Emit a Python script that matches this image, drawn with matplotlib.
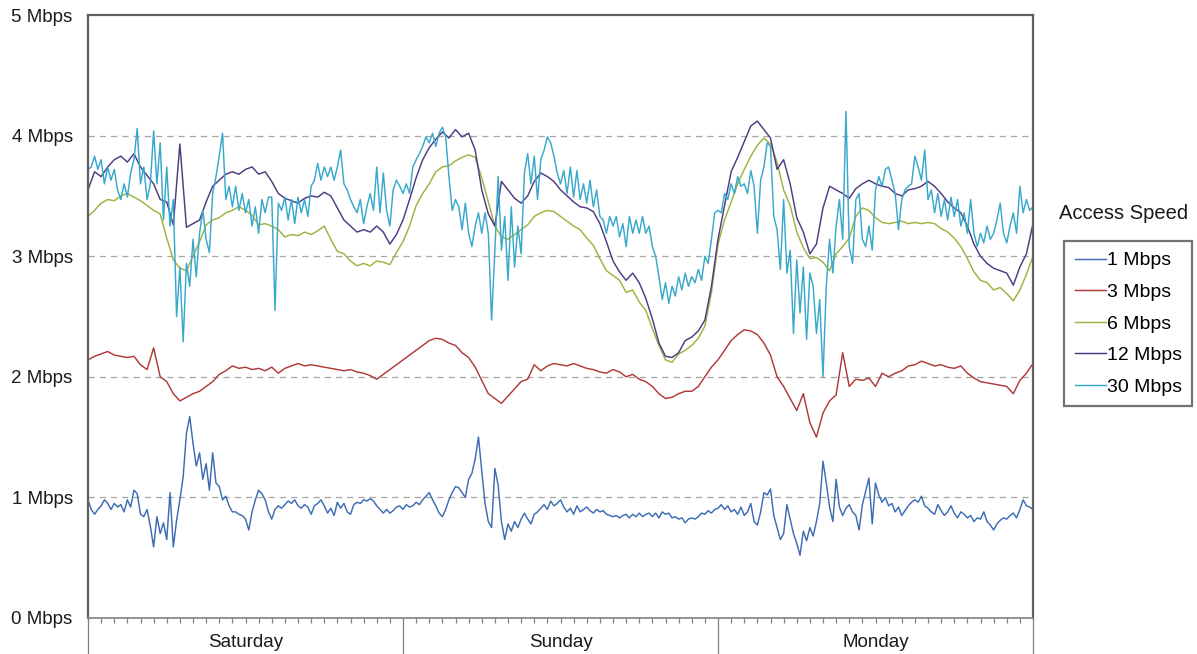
import matplotlib
matplotlib.use("Agg")
import matplotlib.pyplot as plt
import numpy as np

plt.rcParams['font.family'] = ['Liberation Sans', 'DejaVu Sans']

days = ["Saturday", "Sunday", "Monday"]
labels = ["1 Mbps", "3 Mbps", "6 Mbps", "12 Mbps", "30 Mbps"]
colors = ["#3d6cb3", "#b03a3a", "#9cb43e", "#4e3a82", "#38a8cc"]
yticks = [0, 1, 2, 3, 4, 5]

# half-hour samples (hours 0..72)
speed_3 = [2.14, 2.17, 2.19, 2.21, 2.18, 2.17, 2.16, 2.17, 2.10, 2.06, 2.24, 2.00,
           1.96, 1.86, 1.80, 1.83, 1.86, 1.88, 1.92, 1.96, 2.02, 2.05, 2.09, 2.07,
           2.08, 2.06, 2.07, 2.05, 2.08, 2.03, 2.07, 2.09, 2.11, 2.09, 2.10, 2.09,
           2.08, 2.07, 2.06, 2.05, 2.06, 2.04, 2.03, 2.01, 1.98, 2.02, 2.06, 2.10,
           2.14, 2.18, 2.22, 2.26, 2.30, 2.32, 2.31, 2.28, 2.26, 2.20, 2.16, 2.08,
           1.97, 1.86, 1.82, 1.78, 1.84, 1.90, 1.96, 1.98, 2.10, 2.05, 2.09, 2.11,
           2.10, 2.09, 2.11, 2.09, 2.07, 2.06, 2.04, 2.03, 2.06, 2.04, 2.00, 2.02,
           1.98, 1.96, 1.92, 1.86, 1.82, 1.83, 1.86, 1.88, 1.88, 1.92, 2.00, 2.08,
           2.14, 2.22, 2.30, 2.35, 2.39, 2.38, 2.35, 2.28, 2.18, 2.00, 1.92, 1.82,
           1.72, 1.86, 1.62, 1.50, 1.70, 1.80, 1.85, 2.20, 1.92, 1.98, 1.97, 1.99,
           1.92, 2.03, 2.00, 2.03, 2.05, 2.09, 2.10, 2.13, 2.11, 2.09, 2.10, 2.08,
           2.07, 2.09, 2.03, 1.99, 1.96, 1.95, 1.94, 1.93, 1.92, 1.86, 1.97, 2.03,
           2.11]

speed_6 = [3.33, 3.38, 3.44, 3.47, 3.46, 3.50, 3.52, 3.49, 3.46, 3.42, 3.38, 3.35,
           3.15, 2.97, 2.90, 2.88, 3.00, 3.12, 3.26, 3.30, 3.32, 3.36, 3.38, 3.41,
           3.38, 3.34, 3.26, 3.27, 3.25, 3.22, 3.16, 3.18, 3.17, 3.20, 3.18, 3.21,
           3.25, 3.14, 3.04, 3.02, 2.96, 2.92, 2.94, 2.92, 2.96, 2.95, 2.93, 3.03,
           3.12, 3.25, 3.42, 3.52, 3.60, 3.70, 3.74, 3.75, 3.79, 3.82, 3.84, 3.82,
           3.65, 3.45, 3.25, 3.16, 3.14, 3.18, 3.22, 3.26, 3.33, 3.36, 3.38, 3.37,
           3.33, 3.29, 3.25, 3.22, 3.15, 3.09, 2.98, 2.88, 2.84, 2.80, 2.70, 2.72,
           2.62, 2.55, 2.40, 2.26, 2.14, 2.12, 2.19, 2.22, 2.26, 2.32, 2.42, 2.70,
           3.10, 3.30, 3.45, 3.60, 3.72, 3.83, 3.92, 3.98, 3.93, 3.78, 3.55, 3.42,
           3.20, 3.07, 2.98, 2.99, 2.95, 2.88, 3.02, 3.08, 3.15, 3.33, 3.40, 3.38,
           3.32, 3.28, 3.27, 3.28, 3.29, 3.27, 3.28, 3.27, 3.28, 3.27, 3.23, 3.20,
           3.15, 3.08, 2.98, 2.87, 2.80, 2.78, 2.72, 2.74, 2.69, 2.63, 2.72, 2.85,
           3.00]

speed_12 = [3.55, 3.70, 3.66, 3.74, 3.80, 3.83, 3.78, 3.85, 3.74, 3.67, 3.60, 3.47,
            3.45, 3.26, 3.93, 3.24, 3.27, 3.30, 3.45, 3.58, 3.63, 3.68, 3.70, 3.68,
            3.72, 3.74, 3.68, 3.70, 3.62, 3.52, 3.48, 3.46, 3.44, 3.48, 3.50, 3.49,
            3.53, 3.50, 3.40, 3.30, 3.25, 3.20, 3.22, 3.20, 3.25, 3.20, 3.10, 3.18,
            3.30, 3.47, 3.65, 3.80, 3.90, 3.97, 4.03, 3.98, 4.05, 3.99, 4.02, 3.88,
            3.55, 3.35, 3.25, 3.62, 3.55, 3.48, 3.44, 3.50, 3.62, 3.69, 3.66, 3.62,
            3.55, 3.50, 3.45, 3.41, 3.40, 3.37, 3.27, 3.12, 2.96, 2.87, 2.80, 2.86,
            2.78, 2.65, 2.48, 2.28, 2.17, 2.16, 2.20, 2.30, 2.33, 2.38, 2.47, 2.75,
            3.14, 3.42, 3.70, 3.82, 3.95, 4.08, 4.12, 4.05, 3.98, 3.72, 3.80, 3.60,
            3.32, 3.20, 3.02, 3.10, 3.40, 3.58, 3.55, 3.52, 3.48, 3.56, 3.60, 3.63,
            3.60, 3.58, 3.57, 3.52, 3.50, 3.55, 3.56, 3.58, 3.62, 3.58, 3.52, 3.45,
            3.40, 3.36, 3.25, 3.10, 3.00, 2.94, 2.90, 2.88, 2.86, 2.76, 2.91, 3.02,
            3.27]

# quarter-hour samples (hours 0..72)
speed_1 = [0.98, 0.90, 0.86, 0.90, 0.93, 0.98, 0.95, 0.90, 0.95, 0.92, 0.94, 0.88,
           0.98, 0.92, 1.06, 1.03, 0.86, 0.84, 0.90, 0.76, 0.59, 0.84, 0.70, 0.79,
           0.65, 1.04, 0.59, 0.81, 0.98, 1.17, 1.53, 1.67, 1.45, 1.26, 1.37, 1.15,
           1.28, 1.06, 1.37, 1.12, 1.09, 0.98, 1.01, 0.93, 0.88, 0.88, 0.86, 0.85,
           0.82, 0.73, 0.88, 0.98, 1.06, 1.03, 0.98, 0.88, 0.82, 0.90, 0.93, 0.91,
           0.94, 0.97, 0.95, 0.98, 0.93, 0.91, 0.94, 0.92, 0.86, 0.93, 0.95, 0.98,
           0.93, 0.87, 0.91, 0.85, 0.96, 0.91, 0.95, 0.88, 0.86, 0.94, 0.96, 0.95,
           0.98, 0.97, 0.99, 0.97, 0.93, 0.90, 0.87, 0.90, 0.87, 0.89, 0.92, 0.93,
           0.90, 0.94, 0.92, 0.93, 0.96, 0.94, 0.98, 1.01, 1.04, 0.98, 0.93, 0.87,
           0.84, 0.90, 0.98, 1.04, 1.09, 1.08, 1.04, 1.00, 1.15, 1.20, 1.32, 1.50,
           1.22, 0.95, 0.80, 0.75, 1.24, 1.10, 0.80, 0.65, 0.78, 0.72, 0.80, 0.75,
           0.82, 0.87, 0.82, 0.78, 0.86, 0.88, 0.91, 0.94, 0.90, 0.97, 0.93, 0.95,
           0.98, 0.92, 0.88, 0.91, 0.86, 0.93, 0.88, 0.90, 0.92, 0.89, 0.87, 0.90,
           0.88, 0.89, 0.86, 0.85, 0.84, 0.85, 0.83, 0.85, 0.86, 0.83, 0.86, 0.84,
           0.87, 0.84, 0.86, 0.87, 0.84, 0.87, 0.83, 0.88, 0.86, 0.87, 0.83, 0.84,
           0.82, 0.83, 0.79, 0.82, 0.83, 0.82, 0.84, 0.87, 0.86, 0.89, 0.87, 0.90,
           0.91, 0.94, 0.90, 0.93, 0.88, 0.90, 0.86, 0.92, 0.85, 0.88, 0.95, 0.80,
           0.77, 0.88, 1.04, 1.02, 1.07, 0.85, 0.75, 0.65, 0.70, 0.94, 0.82, 0.70,
           0.62, 0.52, 0.72, 0.64, 0.75, 0.68, 0.80, 0.95, 1.30, 1.12, 0.92, 0.80,
           1.15, 0.92, 0.85, 0.91, 0.94, 0.88, 0.85, 0.73, 0.94, 1.05, 1.16, 0.78,
           1.12, 1.02, 0.96, 1.00, 0.93, 0.95, 0.88, 0.92, 0.85, 0.89, 0.93, 0.96,
           0.98, 0.96, 1.01, 0.93, 0.91, 0.88, 0.86, 0.94, 0.89, 0.85, 0.88, 0.93,
           0.87, 0.83, 0.88, 0.86, 0.83, 0.85, 0.80, 0.83, 0.82, 0.88, 0.80, 0.77,
           0.73, 0.78, 0.81, 0.83, 0.82, 0.85, 0.87, 0.83, 0.90, 0.98, 0.93, 0.92,
           0.90]

speed_30 = [3.72, 3.74, 3.83, 3.72, 3.80, 3.60, 3.74, 3.63, 3.72, 3.55, 3.47, 3.60,
            3.49, 3.69, 3.80, 4.06, 3.60, 3.74, 3.47, 3.60, 4.04, 3.60, 3.94, 3.30,
            3.74, 3.25, 3.47, 2.50, 2.91, 2.29, 2.94, 2.75, 3.14, 2.83, 3.19, 3.38,
            3.14, 3.03, 3.52, 3.66, 3.83, 4.02, 3.47, 3.58, 3.41, 3.58, 3.38, 3.52,
            3.36, 3.47, 3.25, 3.41, 3.19, 3.47, 3.36, 3.49, 3.49, 2.55, 3.44, 3.38,
            3.49, 3.30, 3.47, 3.27, 3.49, 3.36, 3.47, 3.33, 3.58, 3.63, 3.77, 3.63,
            3.74, 3.66, 3.74, 3.63, 3.74, 3.88, 3.60, 3.55, 3.47, 3.41, 3.36, 3.47,
            3.27, 3.41, 3.52, 3.38, 3.74, 3.36, 3.69, 3.38, 3.25, 3.55, 3.63, 3.58,
            3.52, 3.60, 3.52, 3.74, 3.80, 3.85, 3.91, 3.99, 3.94, 4.02, 3.91, 4.02,
            4.07, 3.99, 3.66, 3.38, 3.47, 3.41, 3.22, 3.44, 3.19, 3.08, 3.25, 3.36,
            3.19, 3.36, 3.19, 2.47, 3.05, 3.66, 3.05, 3.33, 2.80, 3.41, 2.91, 3.25,
            3.02, 3.69, 3.85, 3.60, 3.83, 3.47, 3.80, 3.88, 3.99, 3.94, 3.83, 3.69,
            3.60, 3.71, 3.52, 3.74, 3.49, 3.71, 3.47, 3.60, 3.44, 3.63, 3.41, 3.55,
            3.33, 3.30, 3.19, 3.33, 3.25, 3.33, 3.16, 3.27, 3.08, 3.33, 3.19, 3.30,
            3.19, 3.33, 3.19, 3.25, 3.08, 3.00, 2.83, 2.64, 2.78, 2.61, 2.75, 2.67,
            2.83, 2.72, 2.86, 2.75, 2.83, 2.78, 2.89, 2.80, 3.00, 2.94, 3.14, 3.36,
            3.38, 3.36, 3.52, 3.47, 3.60, 3.52, 3.66, 3.58, 3.60, 3.52, 3.71, 3.58,
            3.19, 3.63, 3.74, 3.94, 3.91, 3.33, 3.22, 2.89, 3.47, 2.86, 3.05, 2.36,
            2.97, 2.53, 2.91, 2.31, 2.86, 2.75, 2.36, 2.64, 2.00, 2.75, 3.14, 2.86,
            3.25, 3.47, 3.14, 4.20, 3.08, 2.94, 3.47, 3.52, 3.14, 3.08, 3.25, 3.05,
            3.55, 3.66, 3.58, 3.72, 3.74, 3.63, 3.52, 3.22, 3.47, 3.55, 3.58, 3.60,
            3.83, 3.74, 3.63, 3.88, 3.47, 3.55, 3.36, 3.52, 3.33, 3.47, 3.30, 3.49,
            3.33, 3.47, 3.25, 3.36, 3.19, 3.47, 3.19, 3.08, 3.19, 3.11, 3.25, 3.14,
            3.19, 3.30, 3.44, 3.19, 3.11, 3.25, 3.36, 3.19, 3.58, 3.36, 3.47, 3.38,
            3.41]

half_hours = np.arange(len(speed_3)) * 0.5
quarter_hours = np.arange(len(speed_1)) * 0.25

series = [(quarter_hours, speed_1), (half_hours, speed_3), (half_hours, speed_6),
          (half_hours, speed_12), (quarter_hours, speed_30)]

fig = plt.figure(figsize=(11.97, 6.54), dpi=100)
ax = fig.add_axes([88 / 1197, 36 / 654, 945 / 1197, 603 / 654])

for (xs, ys), lab, col in zip(series, labels, colors):
    ax.plot(xs, ys, color=col, lw=1.05, label=lab)

ax.set_xlim(0, 72)
ax.set_ylim(0, 5)

# dashed gridlines at 1..4
for v in yticks[1:-1]:
    ax.axhline(v, color="#a6a6a6", lw=0.9, ls=(0, (5, 4)), zorder=0)

ax.set_yticks(yticks)
ax.set_yticklabels([f"{v} Mbps" for v in yticks], fontsize=13.5, color="#1a1a1a")
ax.tick_params(axis="y", length=0, pad=11)

ax.set_xticks([0, 24, 48, 72])
ax.set_xticklabels([])
ax.set_xticks(np.arange(0, 73, 1), minor=True)
ax.tick_params(axis="x", which="major", length=26, width=0.9, color="#808080")
ax.tick_params(axis="x", which="minor", length=3.5, width=0.9, color="#808080")

for i, d in enumerate(days):
    ax.text(12 + 24 * i, -0.04, d, transform=ax.get_xaxis_transform(),
            ha="center", va="center", fontsize=13.5, color="#1a1a1a")

for s in ax.spines.values():
    s.set_color("#606060")
    s.set_linewidth(1.6)
ax.spines["bottom"].set_color("#808080")
ax.spines["bottom"].set_linewidth(1.2)

fig.text(1124 / 1197, (654 - 213) / 654, "Access Speed", ha="center", va="center",
         fontsize=14.5, color="#1a1a1a")
leg = fig.legend(loc="upper left", bbox_to_anchor=(1064 / 1197, (654 - 241) / 654),
                 fontsize=14, frameon=True, fancybox=False, handlelength=1.6,
                 handletextpad=0.05, labelspacing=0.72, borderpad=0.55,
                 borderaxespad=0)
leg.get_frame().set_edgecolor("#505050")
leg.get_frame().set_linewidth(1.6)

fig.savefig("out.png", dpi=100)
